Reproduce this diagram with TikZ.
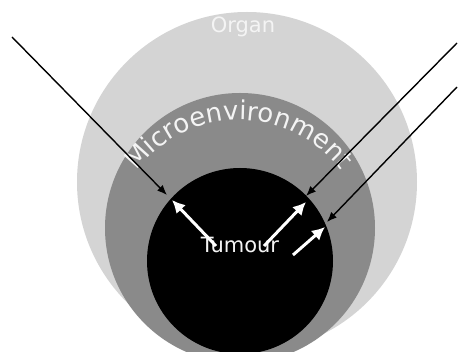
\documentclass[tikz,border=0pt]{standalone}
\usepackage{fontspec}
\setmainfont{DejaVu Sans}
\usepackage{xcolor}
\usetikzlibrary{arrows.meta,decorations.text}

\definecolor{organgray}{HTML}{D4D4D4}
\definecolor{microgray}{HTML}{8A8A8A}
\definecolor{labelwhite}{HTML}{F4F4F4}

\begin{document}
\begin{tikzpicture}[x=1pt,y=-1pt,>=Latex,
  inflow/.style={line width=1.4pt,black,-{Latex[length=10pt,width=8pt]}},
  outflow/.style={line width=3pt,white,-{Latex[length=13pt,width=13pt]}},
  layername/.style={text=labelwhite,font=\fontsize{21}{24}\selectfont,inner sep=0pt}]
\useasboundingbox (0,0) rectangle (459,352);
\clip (0,0) rectangle (459,352);
\fill[white] (0,0) rectangle (459,352);
% the three nested regions
\fill[organgray] (247,182) circle[radius=170];
\fill[microgray] (240,228) circle[radius=135];
\fill[black] (240,261) circle[radius=93];
% labels
\node[layername] (organ) at (243,27) {Organ};
\node[layername] (tumour) at (240,245) {Tumour};
\path[decorate,decoration={text along path,text align=center,
  text={|\fontsize{26}{29}\selectfont\color{labelwhite}|Microenvironment}}]
  (239,248) ++(-155:128) arc[start angle=-155,end angle=-25,radius=128];
% signals into the tumour
\coordinate (inA) at (12,37);
\coordinate (inB) at (457,43);
\coordinate (inC) at (457,87);
\coordinate (hitA) at (167,195);
\coordinate (hitB) at (306,196);
\coordinate (hitC) at (327,222);
\draw[inflow] (inA) -- (hitA);
\draw[inflow] (inB) -- (hitB);
\draw[inflow] (inC) -- (hitC);
% signals out of the tumour
\coordinate (outA) at (216,246);
\coordinate (outB) at (264,246);
\coordinate (outC) at (293,255);
\coordinate (tipA) at (172,200);
\coordinate (tipB) at (306,202);
\coordinate (tipC) at (325,227);
\draw[outflow] (outA) -- (tipA);
\draw[outflow] (outB) -- (tipB);
\draw[outflow] (outC) -- (tipC);
\end{tikzpicture}
\end{document}
